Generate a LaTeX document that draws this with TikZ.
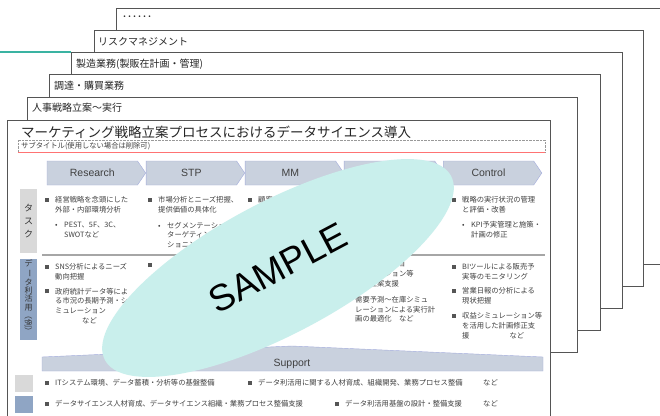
\documentclass[tikz,border=0pt]{standalone}
\usepackage{fontspec}
\usepackage{graphicx}
\setmainfont{Liberation Sans}
\newfontfamily\jp{Noto Sans CJK JP}
\usepackage{tikz}
\usetikzlibrary{positioning, shapes.geometric, shapes.symbols}

\definecolor{frameline}{HTML}{555555}
\definecolor{chevfill}{HTML}{C9D1DE}
\definecolor{chevline}{HTML}{A3ACDC}
\definecolor{taskgray}{HTML}{D9D9D9}
\definecolor{datablue}{HTML}{8FA5C4}
\definecolor{sampleteal}{HTML}{C9EFEC}
\definecolor{accent}{HTML}{3AB3A2}
\definecolor{bodytext}{HTML}{404040}

\newcommand{\sqbul}{\makebox[10pt][l]{\textcolor{frameline}{\rule[0.6pt]{4pt}{4pt}}}}
\newcommand{\dotbul}{\makebox[9pt][l]{•}}
\newcommand{\indA}{\hspace*{10pt}}
\newcommand{\indB}{\hspace*{19pt}}

\begin{document}
\begin{tikzpicture}[x=1pt, y=-1pt,
     card/.style={draw=frameline, line width=0.9pt, fill=white},
     cardtitle/.style={anchor=west, inner sep=0pt, text=black!85, font=\jp\fontsize{10}{11}\selectfont},
     chev/.style={signal, signal to=east, signal pointer angle=112, draw=chevline, fill=chevfill,
       minimum width=98.6pt, minimum height=24pt, inner sep=0pt, text=black!75, font=\fontsize{10.5}{12}\selectfont},
     body/.style={anchor=north west, inner sep=0pt, align=left, text=bodytext, font=\jp\fontsize{7.3}{9.8}\selectfont},
     legend/.style={anchor=west, inner sep=0pt, text=bodytext, font=\jp\fontsize{7.3}{9}\selectfont},
     sidelbl/.style={align=center, inner sep=0pt, text=black!80}]

  \useasboundingbox (0,0) rectangle (660,415);
  \clip (0,0) rectangle (660,415);

  % stacked sheets, back to front
  \foreach \l/\t/\r/\b in {116/8/690/264, 94/30/643/286, 71/52/622/308, 49/74/600/330, 27/97/577/352, 7/120/550/430}
    \draw[card] (\l,\t) rectangle (\r,\b);
  \draw[accent, line width=1.4pt] (0,52) -- (71,52);

  \node[cardtitle] (more) at (122,18) {･･････};
  \node[cardtitle] (risk) at (98,42) {リスクマネジメント};
  \node[cardtitle] (mfg) at (76,64) {製造業務(製販在計画・管理)};
  \node[cardtitle] (proc) at (54,86) {調達・購買業務};
  \node[cardtitle] (hr) at (32,108) {人事戦略立案〜実行};

  \node[anchor=west, inner sep=0pt, text=black!85, font=\jp\fontsize{13.5}{15}\selectfont] (title) at (21,132)
    {マーケティング戦略立案プロセスにおけるデータサイエンス導入};
  \draw[densely dotted, gray!80] (18,140) rectangle (545,152);
  \draw[red!55, line width=0.8pt] (18,152) -- (545,152);
  \node[legend] (subtitle) at (21,146) {サブタイトル(使用しない場合は削除可)};

  % process steps
  \node[chev] (research) at (92.3,173) {Research};
  \node[chev, right=0pt of research] (stp) {STP};
  \node[chev, right=0pt of stp] (mm) {MM};
  \node[chev, right=0pt of mm] (impl) {Implementation};
  \node[chev, right=0pt of impl] (control) {Control};

  \fill[taskgray] (20,189) rectangle (37,253);
  \fill[datablue] (20,259) rectangle (37,340);
  \node[sidelbl, font=\jp\fontsize{9}{13}\selectfont] (tasklbl) at (28.5,221) {タ\\ス\\ク};
  \node[sidelbl, font=\jp\fontsize{8}{8.4}\selectfont] (datalbl) at (28.5,298)
    {デ\\\rotatebox[origin=c]{-90}{ー}\\タ\\利\\活\\用\\\rotatebox[origin=c]{-90}{（例）}};
  \draw[gray!70, line width=1.5pt] (42,255) -- (545,255);

  % tasks
  \node[body] (task1) at (45,196) {\sqbul 経営戦略を念頭にした\\ \indA 外部・内部環境分析\\[6pt]
    \indA\dotbul PEST、5F、3C、\\ \indB SWOTなど};
  \node[body] (task2) at (148,196) {\sqbul 市場分析とニーズ把握、\\ \indA 提供価値の具体化\\[6pt]
    \indA\dotbul セグメンテーション・\\ \indB ターゲティング・ポジ\\ \indB ショニング};
  \node[body] (task3) at (248,196) {\sqbul 顧客};
  \node[body] (task5) at (452,196) {\sqbul 戦略の実行状況の管理\\ \indA と評価・改善\\[6pt]
    \indA\dotbul KPI予実管理と施策・\\ \indB 計画の修正};

  % data use
  \node[body] (data1) at (45,263) {\sqbul SNS分析によるニーズ\\ \indA 動向把握\\[5pt]
    \sqbul 政府統計データ等によ\\ \indA る市況の長期予測・シ\\ \indA ミュレーション\\ \indA\hspace*{27pt}など};
  \node[body] (data2) at (148,263) {\sqbul};
  \node[body] (data4) at (345,261) {\sqbul シミュレーショ\\ \indA ン・オプション等\\ \indA 計画立案支援\\[6pt]
    \sqbul 需要予測〜在庫シミュ\\ \indA レーションによる実行計\\ \indA 画の最適化　など};
  \node[body] (data5) at (452,263) {\sqbul BIツールによる販売予\\ \indA 実等のモニタリング\\[5pt]
    \sqbul 営業日報の分析による\\ \indA 現状把握\\[5pt]
    \sqbul 収益シミュレーション等\\ \indA を活用した計画修正支\\ \indA 援\hspace*{40pt}など};

  % support
  \draw[draw=chevline, fill=chevfill] (42,371) -- (42,357) -- (292,346) -- (543,357) -- (543,371) -- cycle;
  \node[inner sep=0pt, text=black!75, font=\fontsize{10.5}{12}\selectfont] (support) at (292,364) {Support};

  \fill[taskgray] (15,375) rectangle (33,392);
  \fill[datablue] (15,396) rectangle (33,413);
  \node[legend] (infra) at (45,383) {\sqbul ITシステム環境、データ蓄積・分析等の基盤整備};
  \node[legend] (talent) at (248,383) {\sqbul データ利活用に関する人材育成、組織開発、業務プロセス整備};
  \node[legend] (etc1) at (483,383) {など};
  \node[legend] (dstalent) at (45,404) {\sqbul データサイエンス人材育成、データサイエンス組織・業務プロセス整備支援};
  \node[legend] (dsinfra) at (335,404) {\sqbul データ利活用基盤の設計・整備支援};
  \node[legend] (etc2) at (483,404) {など};

  \node[ellipse, fill=sampleteal, minimum width=392pt, minimum height=132pt, inner sep=0pt, rotate=28,
    font=\fontsize{37}{40}\selectfont] (sample) at (278,268) {SAMPLE};
\end{tikzpicture}
\end{document}
